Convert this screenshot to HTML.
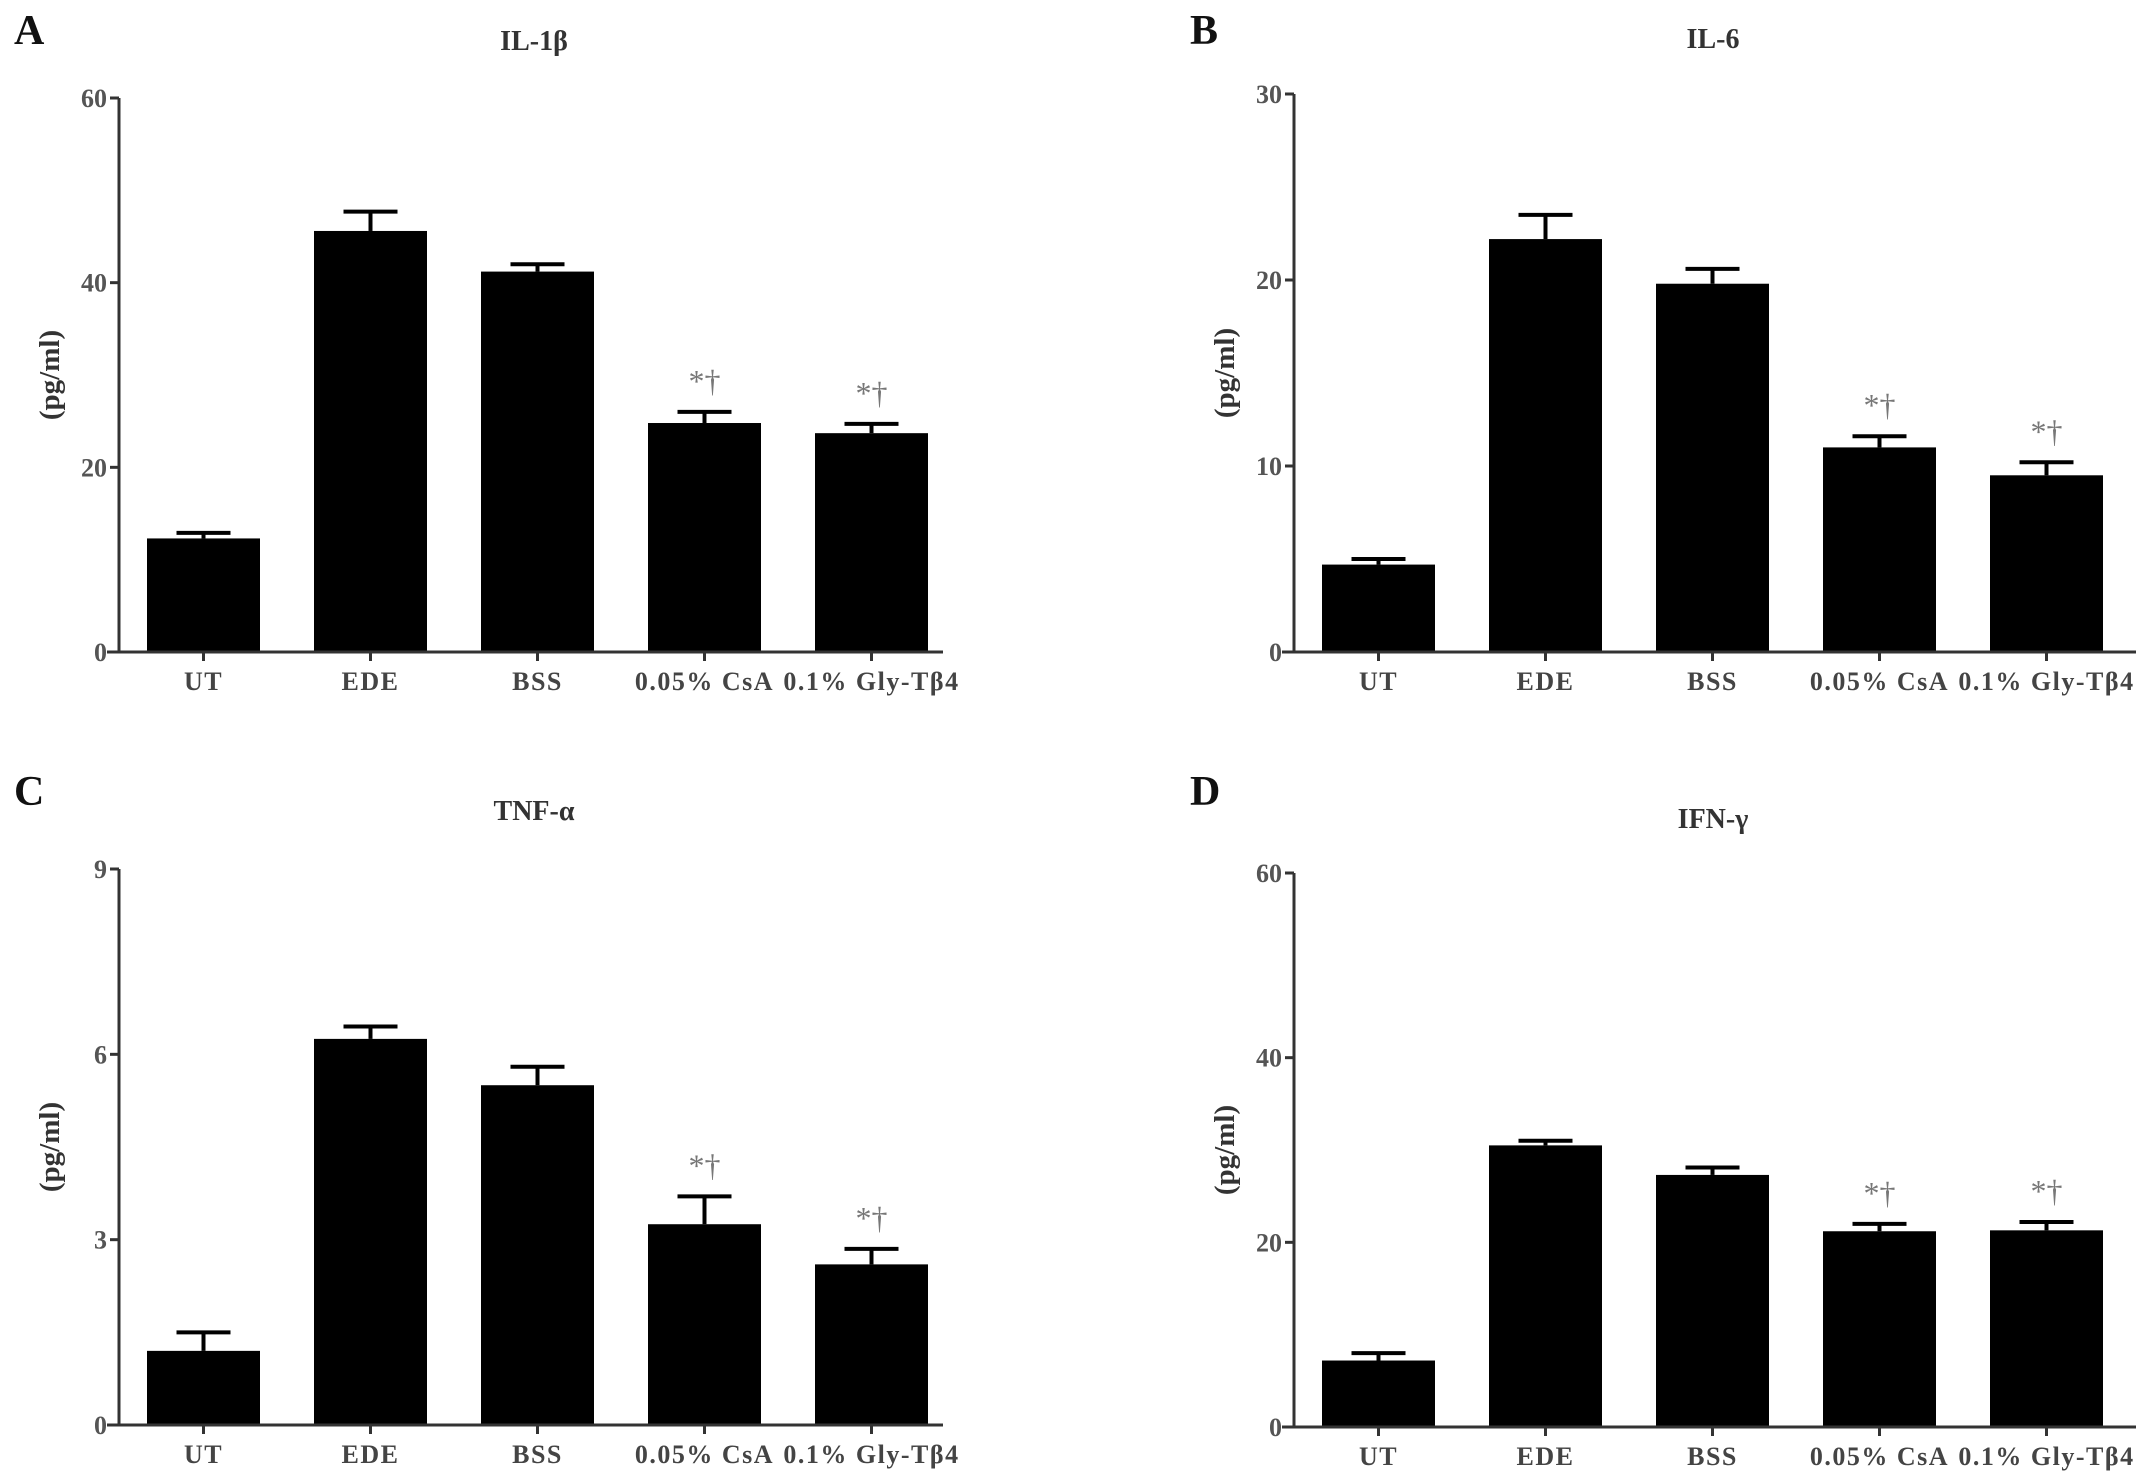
<!DOCTYPE html>
<html><head><meta charset="utf-8">
<style>
html,body{margin:0;padding:0;background:#fff;}
svg{display:block;font-family:"Liberation Serif",serif;}
</style></head>
<body>
<svg id="fig" width="2150" height="1483" viewBox="0 0 2150 1483" xmlns="http://www.w3.org/2000/svg"></svg>
<script>
const categories = ["UT","EDE","BSS","0.05% CsA","0.1% Gly-Tβ4"];
const il1bValues = [12.3,45.6,41.2,24.8,23.7];
const il1bErrors = [0.6,2.1,0.8,1.2,1.0];
const il6Values = [4.7,22.2,19.8,11.0,9.5];
const il6Errors = [0.3,1.3,0.8,0.6,0.7];
const tnfValues = [1.2,6.25,5.5,3.25,2.6];
const tnfErrors = [0.3,0.2,0.3,0.45,0.25];
const ifnValues = [7.2,30.5,27.3,21.2,21.3];
const ifnErrors = [0.8,0.5,0.8,0.8,0.9];
const il1bTicks = [0,20,40,60];
const il6Ticks = [0,10,20,30];
const tnfTicks = [0,3,6,9];
const ifnTicks = [0,20,40,60];
const sigFlags = [false,false,false,true,true];

const NS="http://www.w3.org/2000/svg";
const svg=document.getElementById('fig');
function mk(tag,attrs,parent){const e=document.createElementNS(NS,tag);for(const k in attrs)e.setAttribute(k,attrs[k]);(parent||svg).appendChild(e);return e;}

const panels=[
 {key:'a',letter:'A',title:'IL-1β',vals:il1bValues,errs:il1bErrors,ticks:il1bTicks,ax:119,top:98,bot:652,xend:943,lx:14,ly:44,ty:50,tx:534},
 {key:'b',letter:'B',title:'IL-6',vals:il6Values,errs:il6Errors,ticks:il6Ticks,ax:1294,top:94,bot:652,xend:2136,lx:1190,ly:44,ty:48,tx:1713},
 {key:'c',letter:'C',title:'TNF-α',vals:tnfValues,errs:tnfErrors,ticks:tnfTicks,ax:119,top:869,bot:1425,xend:943,lx:14,ly:805,ty:820,tx:534},
 {key:'d',letter:'D',title:'IFN-γ',vals:ifnValues,errs:ifnErrors,ticks:ifnTicks,ax:1294,top:873,bot:1427,xend:2136,lx:1190,ly:805,ty:828,tx:1713}
];

panels.forEach(p=>{
  const g=mk('g',{});
  
  
  const maxV=p.ticks[p.ticks.length-1];
  const y=v=>p.bot-(v/maxV)*(p.bot-p.top);
  const step=167, off=28, bw=113;
  const bx=i=>p.ax+off+i*step;
  const lt=mk('text',{x:p.lx,y:p.ly,'font-size':42,'font-weight':'bold',fill:'#111'},g);
  lt.textContent=p.letter;
  
  
  const tt=mk('text',{x:p.tx,y:p.ty,'font-size':28,'font-weight':'bold','text-anchor':'middle',fill:'#333'},g);
  tt.textContent=p.title;
  
  
  const yl=mk('text',{x:0,y:0,'font-size':29,'font-weight':'bold','text-anchor':'middle',fill:'#333',transform:`translate(${p.ax-60},${(p.top+p.bot)/2}) rotate(-90)`},g);
  yl.textContent='(pg/ml)';
  
  
  p.vals.forEach((v,i)=>{
    const x=bx(i);
    const et=y(v+p.errs[i]);
    const eb=mk('line',{x1:x+bw/2,x2:x+bw/2,y1:y(v),y2:et,stroke:'#000','stroke-width':4},g);
    
    
    const cap=mk('line',{x1:x+bw/2-27,x2:x+bw/2+27,y1:et,y2:et,stroke:'#000','stroke-width':4},g);
    
    
    const r=mk('rect',{x:x,y:y(v),width:bw,height:p.bot-y(v),fill:'#000'},g);
    
    
    if(sigFlags[i]){
      const s=mk('text',{x:x+bw/2,y:et-20,'font-size':32,'text-anchor':'middle',fill:'#777'},g);
      s.textContent='*†';
      
      
    }
    const tk=mk('line',{x1:x+bw/2,x2:x+bw/2,y1:p.bot,y2:p.bot+9,stroke:'#333','stroke-width':3},g);
    
    
    const cl=mk('text',{x:x+bw/2,y:p.bot+38,'font-size':26,'font-weight':'bold','letter-spacing':1.5,'text-anchor':'middle',fill:'#444'},g);
    cl.textContent=categories[i];
    
    
  });
  const ya=mk('line',{x1:p.ax,x2:p.ax,y1:p.top,y2:p.bot,stroke:'#333','stroke-width':3},g);
  
  
  const xa=mk('line',{x1:p.ax-12,x2:p.xend,y1:p.bot,y2:p.bot,stroke:'#333','stroke-width':3},g);
  
  
  p.ticks.forEach((t,j)=>{
    const ty=y(t);
    const tl=mk('line',{x1:p.ax-9,x2:p.ax,y1:ty,y2:ty,stroke:'#333','stroke-width':3},g);
    
    
    const tx=mk('text',{x:p.ax-12,y:ty+9,'font-size':26,'font-weight':'bold','text-anchor':'end',fill:'#555'},g);
    tx.textContent=String(t);
    
    
  });
});
</script>
</body></html>
